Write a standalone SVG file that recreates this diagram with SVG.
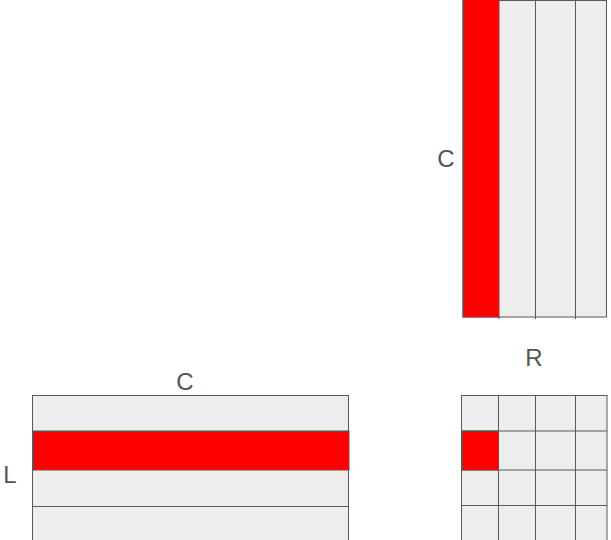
<svg xmlns="http://www.w3.org/2000/svg" width="611" height="540" viewBox="0 0 611 540">
<style>
.cell{fill:#ededed;stroke:#595959;stroke-width:1}
.hl{fill:#ff0000;stroke:#595959;stroke-width:1}
.ln{stroke:#595959;stroke-width:1;fill:none}
.lbl{font-family:"Liberation Sans",Arial,sans-serif;font-size:24px;fill:#555555;text-anchor:middle;dominant-baseline:central}
</style>
<rect width="611" height="540" fill="#ffffff"/>
<g id="matrix-top">
  <rect class="cell" x="463" y="0.5" width="143.5" height="316.5"/>
  <line class="ln" x1="535.5" y1="0" x2="535.5" y2="319"/>
  <line class="ln" x1="575.5" y1="0" x2="575.5" y2="319"/>
  <rect class="hl" x="463" y="-1" width="36" height="318"/>
  <line class="ln" x1="499" y1="317" x2="499" y2="319"/>
  <text class="lbl" x="446" y="158">C</text>
</g>
<g id="matrix-left">
  <rect class="cell" x="32.5" y="395.5" width="316" height="150"/>
  <line class="ln" x1="32.5" y1="506.5" x2="349" y2="506.5"/>
  <rect class="hl" x="33" y="431" width="316" height="39"/>
  <text class="lbl" x="185" y="381">C</text>
  <text class="lbl" x="10" y="474">L</text>
</g>
<g id="matrix-result">
  <rect class="cell" x="461.5" y="395.5" width="145.5" height="150"/>
  <line class="ln" x1="498.5" y1="395.5" x2="498.5" y2="540"/>
  <line class="ln" x1="535.5" y1="395.5" x2="535.5" y2="540"/>
  <line class="ln" x1="575.5" y1="395.5" x2="575.5" y2="540"/>
  <line class="ln" x1="461.5" y1="431" x2="607" y2="431"/>
  <line class="ln" x1="461.5" y1="470" x2="607" y2="470"/>
  <line class="ln" x1="461.5" y1="505.5" x2="607" y2="505.5"/>
  <rect class="hl" x="462" y="431" width="36.5" height="39"/>
  <text class="lbl" x="534" y="357">R</text>
</g>
<g id="connectors"></g>
</svg>
